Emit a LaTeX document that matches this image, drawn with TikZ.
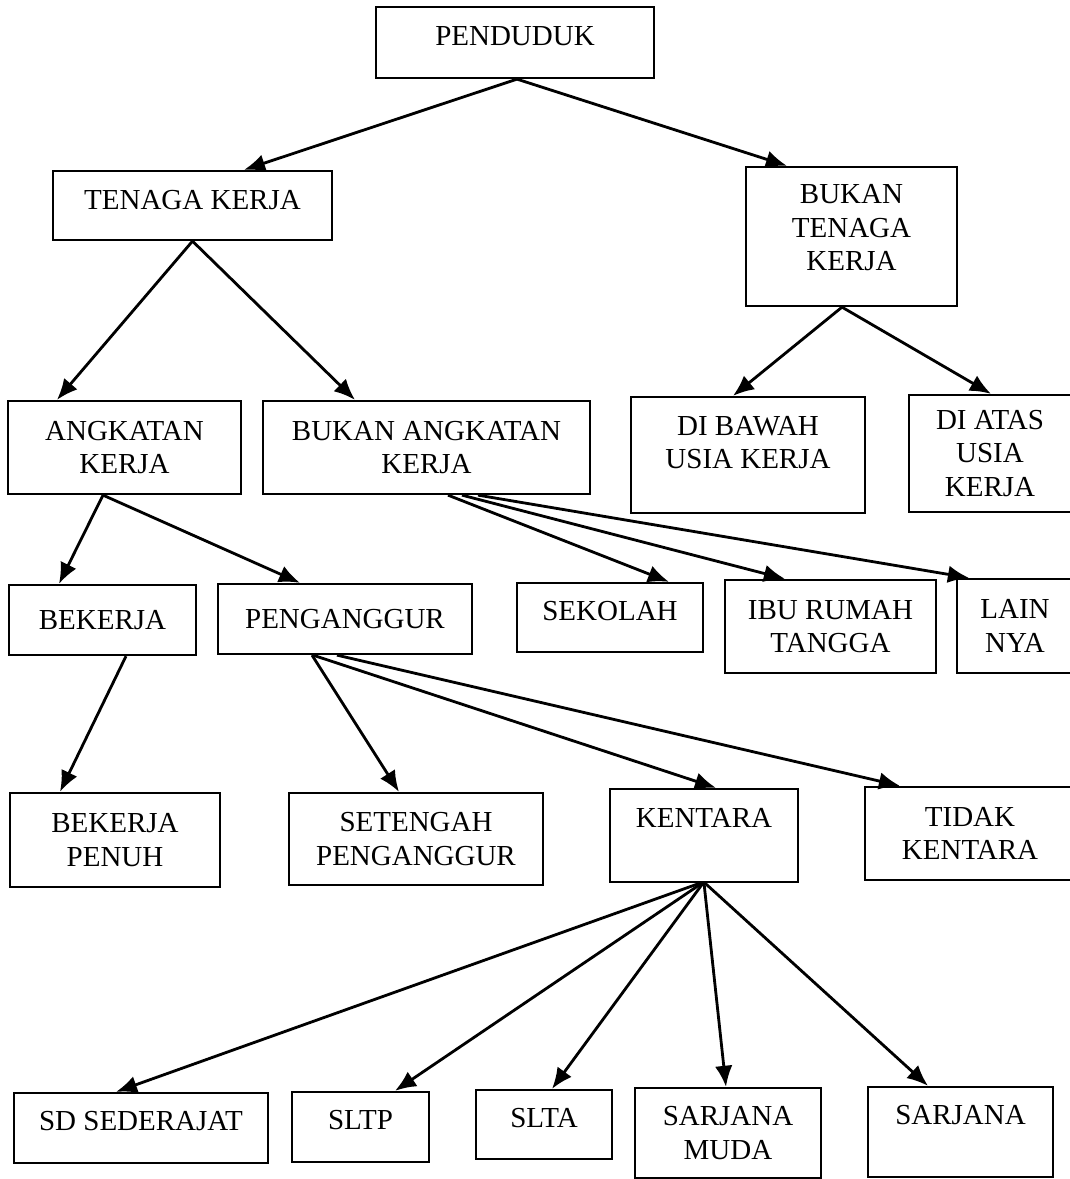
\documentclass[tikz,border=0pt]{standalone}
\usepackage{fontspec}
\setmainfont{Liberation Serif}
\usepackage{tikz}
\usetikzlibrary{arrows.meta,calc}

\begin{document}
\begin{tikzpicture}[
  x=0.02cm, y=-0.02cm,
  box/.style 2 args={rectangle, draw=black, line width=1.3pt, fill=white,
              align=center, font=\fontsize{16.5}{19}\selectfont, inner sep=0pt,
              minimum width=#1*0.02cm, minimum height=#2*0.02cm},
  raised/.style={text depth=#1},
  arr/.style={-{Latex[length=12pt,width=10pt]}, line width=1.6pt, black}
]

\path[use as bounding box, fill=white] (0,0) rectangle (1069,1179);

%% Top levels
\node[box={278}{71}, raised=7pt]  (pend) at (515,42.5)  {PENDUDUK};
\node[box={279}{69}, raised=6pt]  (tk)   at (192.5,205.5) {TENAGA KERJA};
\node[box={211}{139}, raised=10pt] (btk) at (851.5,236.5) {BUKAN\\TENAGA\\KERJA};

%% Third level
\node[box={233}{93}]  (ak)   at (124.5,447.5) {ANGKATAN\\KERJA};
\node[box={327}{93}]  (bak)  at (426.5,447.5) {BUKAN ANGKATAN\\KERJA};
\node[box={234}{116}, raised=14pt] (dbu) at (748,455) {DI BAWAH\\USIA KERJA};
\node[box={162}{117}] (dau)  at (990,453.5)   {DI ATAS\\USIA\\KERJA};

%% Fourth level
\node[box={187}{70}]  (bek)  at (102.5,620)   {BEKERJA};
\node[box={254}{70}]  (png)  at (345,619)     {PENGANGGUR};
\node[box={186}{69}, raised=8pt] (sek) at (610,617.5) {SEKOLAH};
\node[box={211}{93}]  (irt)  at (830.5,626.5) {IBU RUMAH\\TANGGA};
\node[box={116}{94}]  (lain) at (1015,626)    {LAIN\\NYA};

%% Fifth level
\node[box={210}{94}]  (bp)   at (115,840)     {BEKERJA\\PENUH};
\node[box={254}{92}]  (sp)   at (416,839)     {SETENGAH\\PENGANGGUR};
\node[box={188}{93}, raised=20pt] (ken) at (704,835.5) {KENTARA};
\node[box={210}{93}]  (tkn)  at (970,833.5)   {TIDAK\\KENTARA};

%% Bottom level
\node[box={254}{70}, raised=8pt] (sd)   at (141,1128)    {SD SEDERAJAT};
\node[box={137}{70}, raised=8pt] (sltp) at (360.5,1127)  {SLTP};
\node[box={136}{69}, raised=8pt] (slta) at (544,1124.5)  {SLTA};
\node[box={186}{90}]             (sm)   at (728,1133)    {SARJANA\\MUDA};
\node[box={185}{90}, raised=20pt] (sar) at (960.5,1132)  {SARJANA};

%% Arrows
\draw[arr] ($(pend.south)+(2,0)$) -- ($(tk.north)+(51.5,0)$);
\draw[arr] ($(pend.south)+(2,0)$) -- ($(btk.north)+(-64.5,0)$);

\draw[arr] (tk.south) -- ($(ak.north)+(-67.5,0)$);
\draw[arr] (tk.south) -- ($(bak.north)+(-71.5,0)$);

\draw[arr] ($(btk.south)+(-9.5,0)$) -- ($(dbu.north)+(-15,0)$);
\draw[arr] ($(btk.south)+(-9.5,0)$) -- ($(dau.north)+(1,0)$);

\draw[arr] ($(ak.south)+(-21.5,0)$) -- ($(bek.north)+(-43.5,0)$);
\draw[arr] ($(ak.south)+(-21.5,0)$) -- ($(png.north)+(-45,0)$);

\draw[arr] ($(bak.south)+(21.5,0)$) -- ($(sek.north)+(59,0)$);
\draw[arr] ($(bak.south)+(35.5,0)$) -- ($(irt.north)+(-45.5,0)$);
\draw[arr] ($(bak.south)+(51.5,0)$) -- ($(lain.north)+(-46,0)$);

\draw[arr] ($(bek.south)+(23.5,0)$) -- ($(bp.north)+(-55,0)$);

\draw[arr] ($(png.south)+(-33,0)$) -- ($(sp.north)+(-17,0)$);
\draw[arr] ($(png.south)+(-32,0)$) -- ($(ken.north)+(12,0)$);
\draw[arr] ($(png.south)+(-8,0)$)  -- ($(tkn.north)+(-70,0)$);

\draw[arr] ($(ken.south)+(-4,0)$) -- ($(sd.north)+(-25,0)$);
\draw[arr] ($(ken.south)+(-2,0)$) -- ($(sltp.north)+(34.5,0)$);
\draw[arr] ($(ken.south)+(-1,0)$) -- ($(slta.north)+(8,0)$);
\draw[arr] (ken.south)            -- ($(sm.north)+(-2,0)$);
\draw[arr] ($(ken.south)+(1,0)$)  -- ($(sar.north)+(-32.5,0)$);

\end{tikzpicture}
\end{document}
